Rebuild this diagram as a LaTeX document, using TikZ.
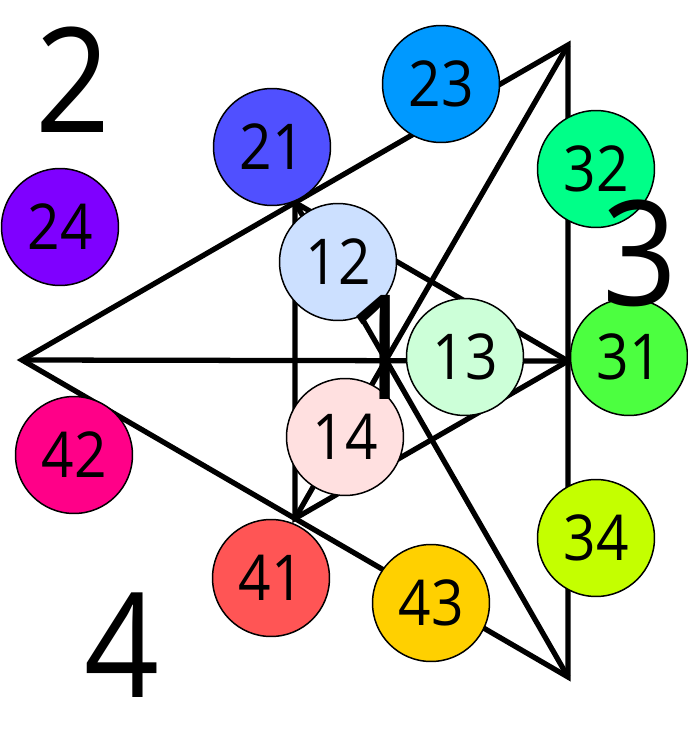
\documentclass[tikz,border=0pt]{standalone}
\usepackage{fontspec}
\setmainfont[FakeStretch=0.9]{Open Sans}
\usetikzlibrary{calc}
\definecolor{c12}{RGB}{204,224,255}
\definecolor{c13}{RGB}{204,255,216}
\definecolor{c14}{RGB}{255,224,224}
\definecolor{c21}{RGB}{80,80,255}
\definecolor{c23}{RGB}{0,153,255}
\definecolor{c24}{RGB}{127,0,255}
\definecolor{c31}{RGB}{76,255,64}
\definecolor{c32}{RGB}{0,255,136}
\definecolor{c34}{RGB}{196,255,0}
\definecolor{c41}{RGB}{255,85,85}
\definecolor{c42}{RGB}{255,0,136}
\definecolor{c43}{RGB}{255,208,0}
\tikzset{
  edge/.style={line width=3pt,miter limit=20},
  ball/.style={circle,draw,line width=0.85pt,minimum size=2.34cm,inner sep=0pt,
    font=\fontsize{36}{36}\selectfont},
  region/.style={inner sep=0pt,font=\fontsize{83}{83}\selectfont},
}

\begin{document}
\begin{tikzpicture}[x=0.02cm,y=-0.02cm]
\useasboundingbox (0,0) rectangle (688,737);
\coordinate (L) at (22,360);
\coordinate (T) at (568,45);
\coordinate (B) at (568,677);
\coordinate (C) at (386,360);
\coordinate (M2) at ($(L)!0.5!(T)$);
\coordinate (M4) at ($(L)!0.5!(B)$);
\coordinate (M3) at ($(T)!0.5!(B)$);
\draw[edge] (L) -- (T) -- (B) -- cycle;
\draw[edge] (M2) -- (M4) -- (M3) -- cycle;
\draw[edge] (L) -- (M3);
\draw[edge] (T) -- (C);
\draw[edge] (B) -- (C);
\draw[edge] (M2) -- (C);
\draw[edge] (M4) -- (C);
\node[ball,fill=c21] (n21) at (272,147) {21};
\node[ball,fill=c24] (n24) at (60,227) {24};
\node[ball,fill=c23] (n23) at (441,84) {23};
\node[ball,fill=c32] (n32) at (596,169) {32};
\node[ball,fill=c12] (n12) at (338,262) {12};
\node[ball,fill=c13] (n13) at (465,357) {13};
\node[ball,fill=c31] (n31) at (629,357) {31};
\node[ball,fill=c14] (n14) at (345,437) {14};
\node[ball,fill=c42] (n42) at (74,455) {42};
\node[ball,fill=c41] (n41) at (271,578) {41};
\node[ball,fill=c43] (n43) at (431,603) {43};
\node[ball,fill=c34] (n34) at (596,538) {34};
\node[region] (r1) at (382,347) {1};
\node[region] (r2) at (73,80) {2};
\node[region] (r3) at (640,253) {3};
\node[region] (r4) at (122,645) {4};
\end{tikzpicture}
\end{document}
